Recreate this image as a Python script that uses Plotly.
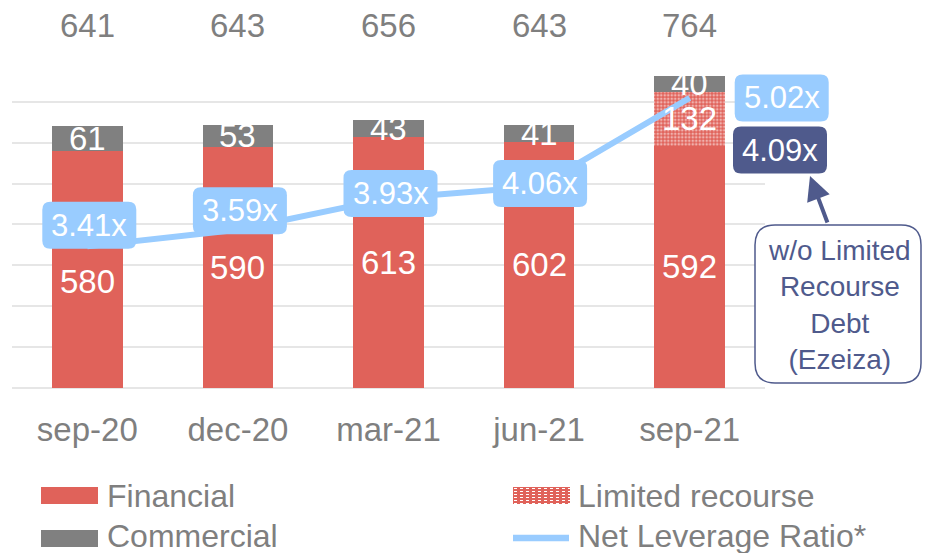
import plotly.graph_objects as go

# ---------------- data ----------------
categories = ["sep-20", "dec-20", "mar-21", "jun-21", "sep-21"]
financial = [580, 590, 613, 602, 592]
limited_recourse = [None, None, None, None, 132]
commercial = [61, 53, 43, 41, 40]
net_leverage = [3.41, 3.59, 3.93, 4.06, 5.02]
net_leverage_wo_limited = 4.09
grid_ticks = [0, 100, 200, 300, 400, 500, 600, 700]

# ---------------- style ----------------
RED = "#E0625A"
GRAY = "#808080"
BLUE = "#99CCFF"
NAVY = "#4F5A8C"
TXT = "#7F7F7F"
FONT = "Liberation Sans, Arial, sans-serif"

W, H = 925, 553
PL, PR, PT, PB = 12, 765, 20, 388
SLOT = (PR - PL) / len(categories)


def pxx(px):
    return (px - PL) / (PR - PL)


def pxy(py):
    return (PB - py) / (PB - PT)


def rrect_path(cx, cy, w, h, r):
    x0, x1 = cx - w / 2, cx + w / 2
    y0, y1 = cy - h / 2, cy + h / 2
    return (f"M{x0+r},{y0} L{x1-r},{y0} Q{x1},{y0} {x1},{y0+r} "
            f"L{x1},{y1-r} Q{x1},{y1} {x1-r},{y1} L{x0+r},{y1} "
            f"Q{x0},{y1} {x0},{y1-r} L{x0},{y0+r} Q{x0},{y0} {x0+r},{y0} Z")


fig = go.Figure()

fig.add_trace(go.Bar(x=categories, y=financial, name="Financial",
                     marker=dict(color=RED, line=dict(width=0)),
                     showlegend=False, hoverinfo="skip"))
fig.add_trace(go.Bar(x=categories, y=limited_recourse, name="Limited recourse",
                     marker=dict(color=RED, line=dict(width=0),
                                 pattern=dict(shape=".", fgcolor="white",
                                              size=3.5, solidity=0.45)),
                     showlegend=False, hoverinfo="skip"))
fig.add_trace(go.Bar(x=categories, y=commercial, name="Commercial",
                     marker=dict(color=GRAY, line=dict(width=0)),
                     showlegend=False, hoverinfo="skip"))
fig.add_trace(go.Scatter(x=categories, y=net_leverage, yaxis="y2",
                         mode="lines", name="Net Leverage Ratio*",
                         line=dict(color=BLUE, width=6),
                         showlegend=False, hoverinfo="skip"))

annotations = []
shapes = []

# totals on top
for c, f, l, m in zip(categories, financial, limited_recourse, commercial):
    total = f + (l or 0) + m
    annotations.append(dict(x=c, y=pxy(25), xref="x", yref="paper",
                            text=str(total), showarrow=False,
                            xanchor="center", yanchor="middle",
                            font=dict(size=33, color=TXT, family=FONT)))

# segment labels
fin_dy = [-12, 0, 0, 0, 0]
for i, (c, f, l, m) in enumerate(zip(categories, financial, limited_recourse, commercial)):
    annotations.append(dict(x=c, y=f / 2, xref="x", yref="y", text=str(f),
                            showarrow=False, yshift=fin_dy[i],
                            xanchor="center", yanchor="middle",
                            font=dict(size=33, color="white", family=FONT)))
    base = f
    if l:
        annotations.append(dict(x=c, y=base + l / 2, xref="x", yref="y", text=str(l),
                                showarrow=False, xanchor="center", yanchor="middle",
                                font=dict(size=33, color="white", family=FONT)))
        base += l
    annotations.append(dict(x=c, y=base + m / 2, xref="x", yref="y", text=str(m),
                            showarrow=False, xanchor="center", yanchor="middle",
                            font=dict(size=33, color="white", family=FONT)))

# ratio label boxes
lab_dx = [2, 2, 2, 1, 92]
lab_dy = [21, 19, 5, 3, 0]
for i, (c, v) in enumerate(zip(categories, net_leverage)):
    slot_center = PL + SLOT * (i + 0.5)
    shapes.append(dict(type="path", xref="paper", yref="y2", xsizemode="pixel",
                       ysizemode="pixel", xanchor=pxx(slot_center), yanchor=v,
                       path=rrect_path(lab_dx[i], lab_dy[i], 94, 47, 8),
                       fillcolor=BLUE, line=dict(width=0), layer="above"))
    annotations.append(dict(x=c, y=v, xref="x", yref="y2", text=f"{v:.2f}x",
                            showarrow=False, xshift=lab_dx[i], yshift=lab_dy[i],
                            xanchor="center", yanchor="middle",
                            font=dict(size=31, color="white", family=FONT)))

# 4.09x box
shapes.append(dict(type="path", xref="paper", yref="paper", xsizemode="pixel",
                   ysizemode="pixel", xanchor=pxx(780), yanchor=pxy(150),
                   path=rrect_path(0, 0, 94, 47, 8),
                   fillcolor=NAVY, line=dict(width=0), layer="above"))
annotations.append(dict(x=pxx(780), y=pxy(150), xref="paper", yref="paper",
                        text=f"{net_leverage_wo_limited:.2f}x", showarrow=False,
                        xanchor="center", yanchor="middle",
                        font=dict(size=31, color="white", family=FONT)))

# callout
shapes.append(dict(type="path", xref="paper", yref="paper", xsizemode="pixel",
                   ysizemode="pixel", xanchor=pxx(838), yanchor=pxy(304),
                   path=rrect_path(0, 0, 166, 158, 20),
                   fillcolor="white", line=dict(width=1.5, color=NAVY), layer="above"))
annotations.append(dict(x=pxx(840), y=pxy(305), xref="paper", yref="paper",
                        text="w/o Limited<br>Recourse<br>Debt<br>(Ezeiza)",
                        showarrow=False, align="center",
                        xanchor="center", yanchor="middle",
                        font=dict(size=28, color=NAVY, family=FONT)))
annotations.append(dict(x=pxx(810), y=pxy(176), xref="paper", yref="paper",
                        text="", showarrow=True, ax=18, ay=48,
                        arrowhead=2, arrowsize=1.2, arrowwidth=4, arrowcolor=NAVY,
                        standoff=0, startstandoff=0))

# custom legend
shapes += [
    dict(type="rect", xref="paper", yref="paper", x0=pxx(41), x1=pxx(98),
         y0=pxy(504), y1=pxy(487), fillcolor=RED, line=dict(width=0)),
    dict(type="rect", xref="paper", yref="paper", x0=pxx(41), x1=pxx(98),
         y0=pxy(547), y1=pxy(530), fillcolor=GRAY, line=dict(width=0)),
    dict(type="rect", xref="paper", yref="paper", x0=pxx(513), x1=pxx(570),
         y0=pxy(504), y1=pxy(487), fillcolor=RED, line=dict(width=0)),
    dict(type="line", xref="paper", yref="paper", x0=pxx(513), x1=pxx(569),
         y0=pxy(538), y1=pxy(538), line=dict(color=BLUE, width=6.5)),
]
for k in range(6):
    yy = 488.5 + k * 3
    shapes.append(dict(type="line", xref="paper", yref="paper", x0=pxx(514),
                       x1=pxx(570), y0=pxy(yy), y1=pxy(yy),
                       line=dict(color="white", width=1, dash="dot")))

for txt, x, y in [("Financial", 105, 496), ("Commercial", 105, 536),
                  ("Limited recourse", 576, 496), ("Net Leverage Ratio*", 576, 536)]:
    annotations.append(dict(x=pxx(x), y=pxy(y), xref="paper", yref="paper",
                            text=txt, showarrow=False, xanchor="left", yanchor="middle",
                            font=dict(size=32, color=TXT, family=FONT)))

fig.update_layout(
    width=W, height=H,
    margin=dict(l=PL, r=W - PR, t=PT, b=H - PB, pad=0),
    paper_bgcolor="white", plot_bgcolor="white",
    barmode="stack", bargap=0.53,
    showlegend=False,
    font=dict(family=FONT, color=TXT),
    xaxis=dict(type="category", range=[-0.5, 4.5], autorange=False,
               showgrid=False, showline=False, zeroline=False,
               ticks="", tickfont=dict(size=33, color=TXT, family=FONT),
               ticklabelstandoff=19),
    yaxis=dict(range=[0, 900], autorange=False, tickvals=grid_ticks, showticklabels=False,
               showgrid=True, gridcolor="#E6E6E6", gridwidth=2,
               zeroline=True, zerolinecolor="#E6E6E6", zerolinewidth=2,
               showline=False, ticks=""),
    yaxis2=dict(range=[1.874, 5.865], autorange=False, overlaying="y", visible=False,
                showgrid=False, zeroline=False),
    shapes=shapes, annotations=annotations,
)

fig.write_html("out.html", config={"displayModeBar": False},
               post_script="document.body.style.margin='0';")
